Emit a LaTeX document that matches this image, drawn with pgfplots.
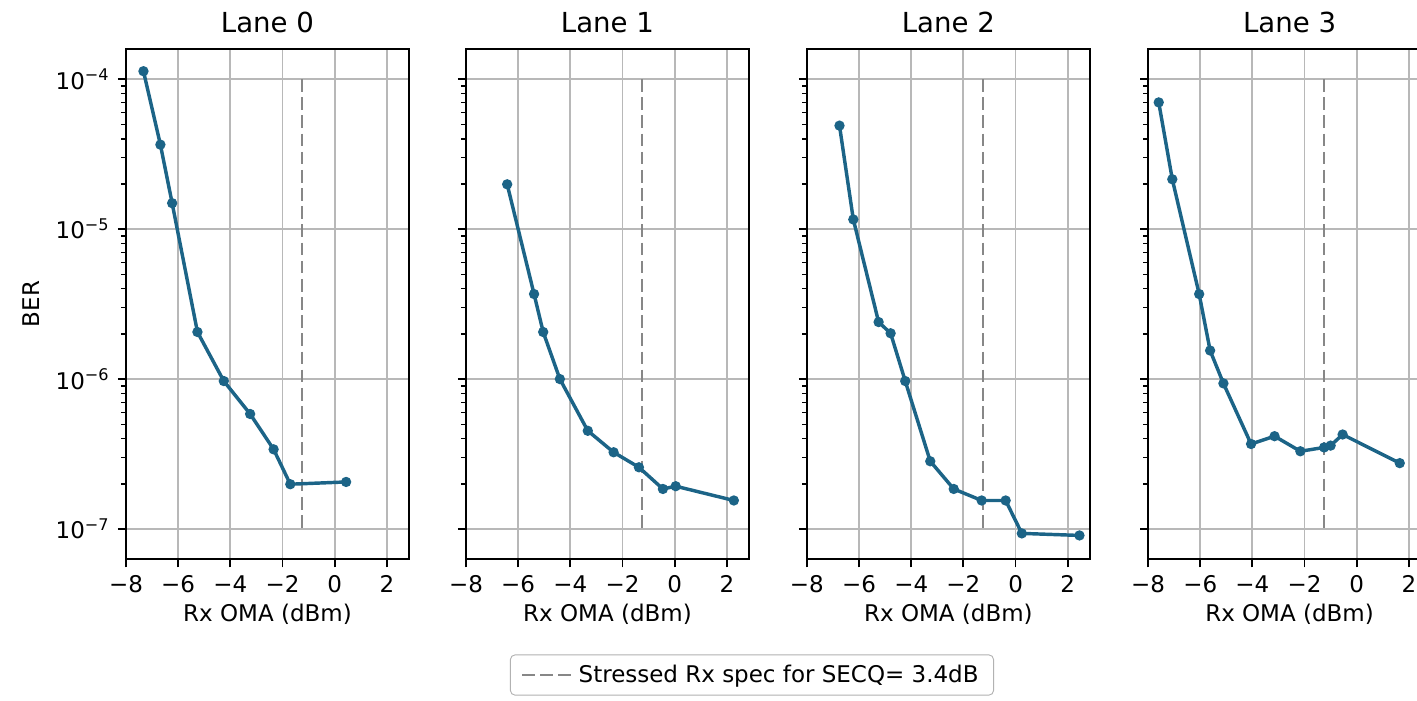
\documentclass[border=0pt]{standalone}
\usepackage{fontspec}
\setmainfont{DejaVu Sans}
\usepackage{pgfplots}
\pgfplotsset{compat=1.18}
\definecolor{ln}{RGB}{28,100,135}
\definecolor{gr}{RGB}{184,184,184}
\definecolor{spec}{RGB}{135,135,135}

\pgfplotsset{legend image code/.code={\draw[#1] (0pt,0pt) -- (22pt,0pt);}}
\pgfplotsset{lanestyle/.style={
  scale only axis, width=123.1pt, height=222.0pt,
  xmin=-8, xmax=2.85, ymin=6.28e-8, ymax=1.59e-4,
  xtick={-8,-6,-4,-2,0,2}, xticklabels={−8,−6,−4,−2,0,2},
  ytick={1e-7,1e-6,1e-5,1e-4},
  tick pos=left, tick align=outside,
  major tick length=3.5pt, minor tick length=2pt,
  every tick/.style={black, line width=0.8pt},
  every minor tick/.style={black, line width=0.6pt},
  grid=major, major grid style={gr, line width=0.8pt},
  axis line style={black, line width=0.8pt},
  tick label style={font=\fontsize{10}{12}\selectfont},
  label style={font=\fontsize{10}{12}\selectfont},
  xlabel style={yshift=2pt},
  title style={font=\fontsize{12}{14}\selectfont, yshift=-2.6pt},
  xlabel={Rx OMA (dBm)},
  clip=false,
  anchor=south west,
}}
\tikzset{
  dataline/.style={ln, line width=1.5pt, mark=*, mark size=1.45pt, mark options={solid, fill=ln}},
  specline/.style={spec, line width=1.2pt, dash pattern=on 5.5pt off 2.4pt},
}

\begin{document}
\begin{tikzpicture}
\begin{semilogyaxis}[lanestyle, at={(54.8pt,61.6pt)}, title={Lane 0}, ylabel={BER},
  yticklabels={10\textsuperscript{−7},10\textsuperscript{−6},10\textsuperscript{−5},10\textsuperscript{−4}},
  legend style={at={(2.212,-0.2267)}, anchor=center, draw=gray!60, rounded corners=2pt,
    font=\fontsize{10}{12}\selectfont, inner xsep=4.5pt, inner ysep=2.2pt}]
\addplot[specline] coordinates {(-1.25,1e-4) (-1.25,1e-7)};
\addlegendentry{Stressed Rx spec for SECQ= 3.4dB}
\addplot[dataline, forget plot] coordinates {
(-7.33,1.13e-4) (-6.68,3.66e-5) (-6.23,1.49e-5) (-5.26,2.06e-6) (-4.25,9.7e-7)
(-3.24,5.85e-7) (-2.34,3.4e-7) (-1.70,1.99e-7) (0.44,2.06e-7)};
\end{semilogyaxis}

\begin{semilogyaxis}[lanestyle, at={(202.7pt,61.6pt)}, title={Lane 1}, yticklabels={}]
\addplot[specline] coordinates {(-1.25,1e-4) (-1.25,1e-7)};
\addplot[dataline] coordinates {
(-6.42,1.99e-5) (-5.39,3.69e-6) (-5.04,2.06e-6) (-4.40,1.0e-6) (-3.33,4.52e-7)
(-2.34,3.25e-7) (-1.37,2.58e-7) (-0.45,1.85e-7) (0.04,1.93e-7) (2.27,1.55e-7)};
\end{semilogyaxis}

\begin{semilogyaxis}[lanestyle, at={(351.0pt,61.6pt)}, title={Lane 2}, yticklabels={}]
\addplot[specline] coordinates {(-1.25,1e-4) (-1.25,1e-7)};
\addplot[dataline] coordinates {
(-6.75,4.9e-5) (-6.22,1.16e-5) (-5.25,2.40e-6) (-4.79,2.02e-6) (-4.23,9.7e-7)
(-3.27,2.83e-7) (-2.37,1.85e-7) (-1.30,1.55e-7) (-0.38,1.55e-7) (0.24,9.35e-8) (2.45,9.06e-8)};
\end{semilogyaxis}

\begin{semilogyaxis}[lanestyle, at={(499.4pt,61.6pt)}, title={Lane 3}, yticklabels={}]
\addplot[specline] coordinates {(-1.25,1e-4) (-1.25,1e-7)};
\addplot[dataline] coordinates {
(-7.59,7.0e-5) (-7.07,2.15e-5) (-6.04,3.69e-6) (-5.62,1.55e-6) (-5.11,9.36e-7)
(-4.05,3.69e-7) (-3.15,4.16e-7) (-2.16,3.30e-7) (-1.25,3.5e-7) (-1.0,3.6e-7)
(-0.54,4.27e-7) (1.65,2.75e-7)};
\end{semilogyaxis}

\pgfresetboundingbox
\path[use as bounding box] (0pt,0pt) rectangle (616.4pt,304.9pt);
\end{tikzpicture}
\end{document}
